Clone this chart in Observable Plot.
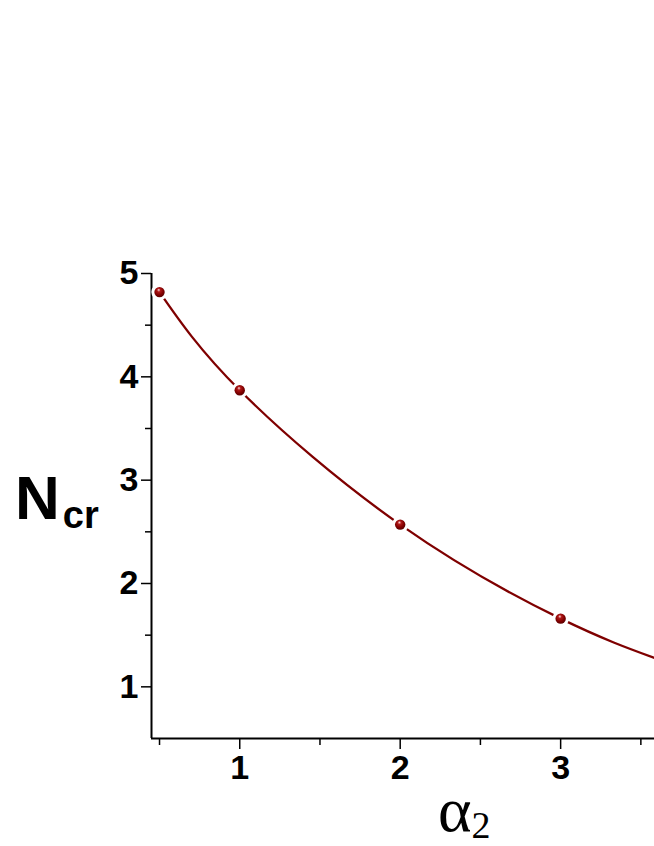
<!DOCTYPE html>
<html><head><meta charset="utf-8">
<script src="https://cdn.jsdelivr.net/npm/d3@7"></script>
<script src="https://cdn.jsdelivr.net/npm/@observablehq/plot@0.6"></script>
<style>html,body{margin:0;background:#fff;overflow:hidden}</style>
</head><body><div id="chart"></div>
<script>
const alphaValues = [0.5, 1, 2, 3];
const ncrValues = [4.82, 3.87, 2.57, 1.66];
const curveAlpha = [0.5, 1, 2, 3, 3.585];
const curveNcr = [4.82, 3.87, 2.57, 1.66, 1.28];
const xMajorTicks = [1, 2, 3];
const xMinorTicks = [0.5, 1.5, 2.5, 3.5];
const yMajorTicks = [1, 2, 3, 4, 5];
const yMinorTicks = [1.5, 2.5, 3.5, 4.5];

const points = alphaValues.map((a, i) => ({a, n: ncrValues[i]}));
const curve = curveAlpha.map((a, i) => ({a, n: curveNcr[i]}));
const col = "#7f0000";
const font = "Liberation Sans, Arial, sans-serif";

const plot = Plot.plot({
  width: 654, height: 846,
  marginTop: 273, marginLeft: 151, marginRight: 0, marginBottom: 108,
  x: {domain: [0.45, 3.585]},
  y: {domain: [0.5, 5]},
  style: {fontFamily: font, color: "#000", background: "#fff"},
  marks: [
    Plot.axisY(yMajorTicks, {tickSize: 10, tickPadding: 3, fontSize: 34, fontWeight: "bold", label: null, strokeWidth: 1.5, tickFormat: d => String(d)}),
    Plot.axisY(yMinorTicks, {tickSize: 6, text: null, label: null, strokeWidth: 1.5}),
    Plot.axisX(xMajorTicks, {tickSize: 11, tickPadding: 5, fontSize: 34, fontWeight: "bold", label: null, strokeWidth: 1.5, tickFormat: d => String(d)}),
    Plot.axisX(xMinorTicks, {tickSize: 7, text: null, label: null, strokeWidth: 1.5}),
    Plot.ruleX([0.45], {strokeWidth: 2}),
    Plot.ruleY([0.5], {strokeWidth: 2}),
    Plot.line(curve, {x: "a", y: "n", curve: "natural", stroke: col, strokeWidth: 2.3, clip: true}),
    Plot.dot(points, {x: "a", y: "n", r: 5.2, fill: "url(#sphere)", stroke: "white", strokeWidth: 6, paintOrder: "stroke"})
  ]
});

const svg = d3.select(plot);
const defs = svg.insert("defs", ":first-child");
const g = defs.append("radialGradient").attr("id", "sphere").attr("cx", "0.45").attr("cy", "0.4").attr("r", "0.6").attr("fx", "0.42").attr("fy", "0.28");
g.append("stop").attr("offset", "0%").attr("stop-color", "#ffe0e0");
g.append("stop").attr("offset", "28%").attr("stop-color", "#b01818");
g.append("stop").attr("offset", "70%").attr("stop-color", "#800000");
g.append("stop").attr("offset", "100%").attr("stop-color", "#5a0000");

const yl = svg.append("text").attr("x", 15).attr("y", 519).attr("text-anchor", "start").attr("font-family", font).attr("font-weight", "bold").attr("fill", "#000");
yl.append("tspan").attr("font-size", 62).text("N");
yl.append("tspan").attr("font-size", 38).attr("dy", 9).attr("dx", 3).text("cr");

const xl = svg.append("text").attr("x", 438).attr("y", 831).attr("text-anchor", "start").attr("font-family", "Liberation Serif, Times New Roman, serif").attr("fill", "#000");
xl.append("tspan").attr("font-size", 64).text("α");
xl.append("tspan").attr("font-size", 38).attr("dy", 7).text("2");

document.getElementById("chart").appendChild(plot);
</script></body></html>
